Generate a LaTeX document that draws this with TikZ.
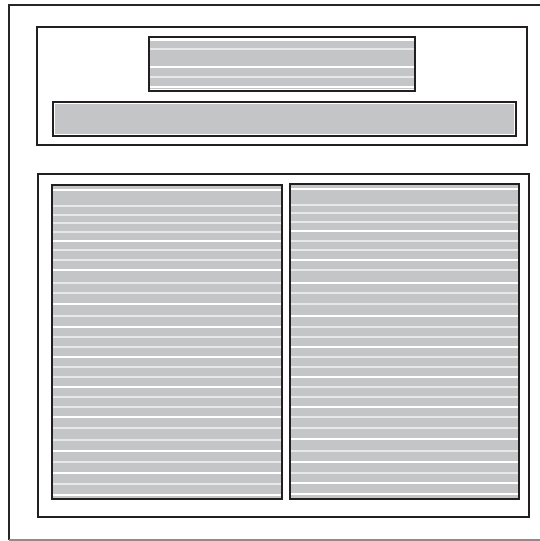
\documentclass[tikz,border=0pt]{standalone}
\begin{document}
\begin{tikzpicture}[x=1pt,y=-1pt,
  frameline/.style={line width=1.4pt,draw=black!85},
  boxline/.style={line width=2pt,draw={rgb,255:red,35;green,31;blue,32}},
  barfill/.style={fill={rgb,255:red,196;green,197;blue,198}},
  gapthick/.style={draw=white,line width=1.8pt},
  gapthin/.style={draw={rgb,255:red,232;green,232;blue,232},line width=1.1pt}]
\useasboundingbox (0,0) rectangle (540,541);
\fill[white] (0,0) rectangle (540,541);
% outer frame
\draw[frameline] (540,5) -- (9,5) -- (9,540);
\draw[line width=1.2pt,draw=black!45] (9,540) -- (540,540);
% top box
\draw[boxline] (37,27) rectangle (527,145);
% small striped box
\fill[barfill] (150,38.5) rectangle (414,89);
\foreach \yy in {40,67,87}{\draw[gapthick] (150,\yy) -- (414,\yy);}
\foreach \yy in {49,77}{\draw[gapthin] (150,\yy) -- (414,\yy);}
\draw[boxline] (149,37) rectangle (415,91);
% wide bar
\fill[barfill] (55,104) rectangle (514,134);
\draw[boxline] (53,102) rectangle (516,136);
% bottom box
\draw[boxline] (38,174) rectangle (529,517);
% left panel
\fill[barfill] (53,186) rectangle (281,498);
\foreach \yy in {190,241,270,304,327,357,387,417,451,473,495}{\draw[gapthick] (53,\yy) -- (281,\yy);}
\foreach \yy in {206,215,223,232,250,260,283,293,316,337,347,367,377,397,407,428,440,462,484}{\draw[gapthin] (53,\yy) -- (281,\yy);}
\draw[boxline] (52,185) rectangle (282,499);
% right panel
\fill[barfill] (291,185) rectangle (518,498);
\foreach \yy in {189,231,260,283,316,347,377,407,439,462,483,494}{\draw[gapthick] (291,\yy) -- (518,\yy);}
\foreach \yy in {205,213,222,241,250,270,293,304,327,337,357,367,387,397,417,428,451,473}{\draw[gapthin] (291,\yy) -- (518,\yy);}
\draw[boxline] (290,184) rectangle (519,499);
\end{tikzpicture}
\end{document}
